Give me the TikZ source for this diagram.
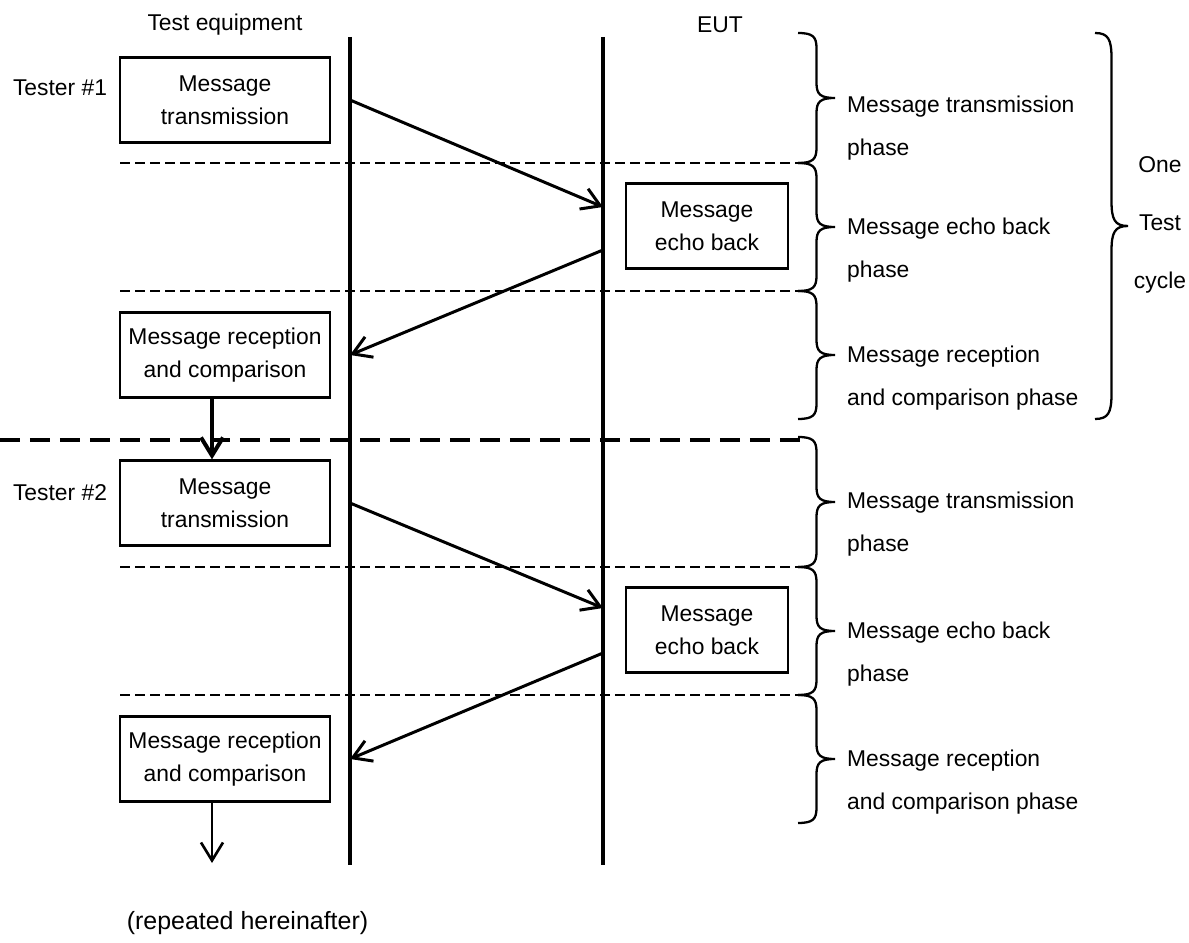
\documentclass[tikz,border=0pt]{standalone}
\usepackage{fontspec}
\setmainfont{Liberation Sans}
\usetikzlibrary{arrows.meta,positioning}

% curly brace: base x, top y, bottom y, tip offset, curl height
\newcommand{\phasebrace}[5]{%
  \pgfmathsetmacro{\brmid}{(#2+#3)/2}
  \pgfmathsetmacro{\brhalf}{(#2-#3)/2}
  \draw[brace line, shift={(#1,\brmid)}] (0,\brhalf) .. controls (0.4*#4,\brhalf) and (0.5*#4,\brhalf-0.25*#5) .. (0.5*#4,\brhalf-#5) -- (0.5*#4,#5) .. controls (0.5*#4,0.25*#5) and (0.6*#4,0) .. (#4,0) .. controls (0.6*#4,0) and (0.5*#4,-0.25*#5) .. (0.5*#4,-#5) -- (0.5*#4,-\brhalf+#5) .. controls (0.5*#4,-\brhalf+0.25*#5) and (0.4*#4,-\brhalf) .. (0,-\brhalf);
}

\begin{document}
\begin{tikzpicture}[>={Straight Barb[length=3.6mm,width=4.4mm]}, on grid, font=\fontsize{13}{18.8}\selectfont, box/.style = {draw, line width=1.3pt, minimum width=4.2cm, minimum height=1.7cm, align=center}, echobox/.style = {box, minimum width=3.24cm}, lifeline/.style = {line width=2.3pt}, msg/.style = {->, line width=1.7pt}, phase/.style = {anchor=west, align=left, font=\fontsize{13}{24.4}\selectfont}, sep/.style = {line width=1.1pt, dash pattern=on 0.2cm off 0.1cm}, cyclesep/.style = {line width=2.3pt, dash pattern=on 0.4cm off 0.2cm}, brace line/.style = {line width=1.3pt}]
\useasboundingbox (0,0) rectangle (23.78,18.84);

% lifelines
\coordinate (teT) at (7.0,18.1);
\coordinate (teB) at (7.0,1.54);
\coordinate (euT) at (12.06,18.1);
\coordinate (euB) at (12.06,1.54);
\draw[lifeline] (teT) -- (teB);
\draw[lifeline] (euT) -- (euB);
\node (te) at (4.5,18.34) {Test equipment};
\node (eut) at (14.4,18.34) {EUT};

% first cycle
\node[box] (tx1) at (4.5,16.84) {Message\\transmission};
\node (tester1) at (1.2,17.08) {Tester \#1};
\node[echobox] (echo1) at (14.14,14.32) {Message\\echo back};
\node[box, below = 5.1cm of tx1] (rx1) {Message reception\\and comparison};
\coordinate (in1) at (12.06,14.7);
\coordinate (out1) at (12.06,13.84);
\draw[msg] (tx1 -| teT) -- (in1);
\draw[msg] (out1) -- (rx1 -| teT);

% second cycle
\node[box, below = 2.96cm of rx1] (tx2) {Message\\transmission};
\node (tester2) at (1.2,8.98) {Tester \#2};
\node[echobox, below = 8.08cm of echo1] (echo2) {Message\\echo back};
\node[box, below = 5.12cm of tx2] (rx2) {Message reception\\and comparison};
\coordinate (in2) at (12.06,6.68);
\coordinate (out2) at (12.06,5.78);
\draw[msg] (tx2 -| teT) -- (in2);
\draw[msg] (out2) -- (rx2 -| teT);

\draw[->, line width=2.3pt] ([xshift=-0.26cm]rx1.south) -- ([xshift=-0.26cm]tx2.north);
\coordinate (more) at (4.24,1.58);
\draw[->, line width=1.5pt] ([xshift=-0.26cm]rx2.south) -- (more);
\node[font=\fontsize{14.2}{17}\selectfont] (rep) at (4.95,0.38) {(repeated hereinafter)};

% phase separators
\draw[sep] (2.4,15.58) -- (16.0,15.58);
\draw[sep] (2.4,13.02) -- (16.0,13.02);
\draw[cyclesep] (0,10.04) -- (16.0,10.04);
\draw[sep] (2.4,7.5) -- (16.0,7.5);
\draw[sep] (2.4,4.94) -- (16.0,4.94);

% braces
\phasebrace{15.96}{18.18}{15.58}{0.74}{0.3}
\phasebrace{15.96}{15.58}{13.02}{0.74}{0.3}
\phasebrace{15.96}{13.02}{10.46}{0.74}{0.3}
\phasebrace{15.96}{10.1}{7.5}{0.74}{0.3}
\phasebrace{15.96}{7.5}{4.94}{0.74}{0.3}
\phasebrace{15.96}{4.94}{2.38}{0.74}{0.3}
\phasebrace{21.9}{18.18}{10.46}{0.66}{0.5}

\node[phase] (p1) at (16.82,16.27) {Message transmission\\phase};
\node[phase] (p2) at (16.82,13.84) {Message echo back\\phase};
\node[phase] (p3) at (16.82,11.27) {Message reception\\and comparison phase};
\node[phase] (p4) at (16.82,8.36) {Message transmission\\phase};
\node[phase] (p5) at (16.82,5.76) {Message echo back\\phase};
\node[phase] (p6) at (16.82,3.19) {Message reception\\and comparison phase};
\node[align=center, font=\fontsize{13}{33}\selectfont] (cycle) at (23.2,14.34) {One\\Test\\cycle};
\end{tikzpicture}
\end{document}
